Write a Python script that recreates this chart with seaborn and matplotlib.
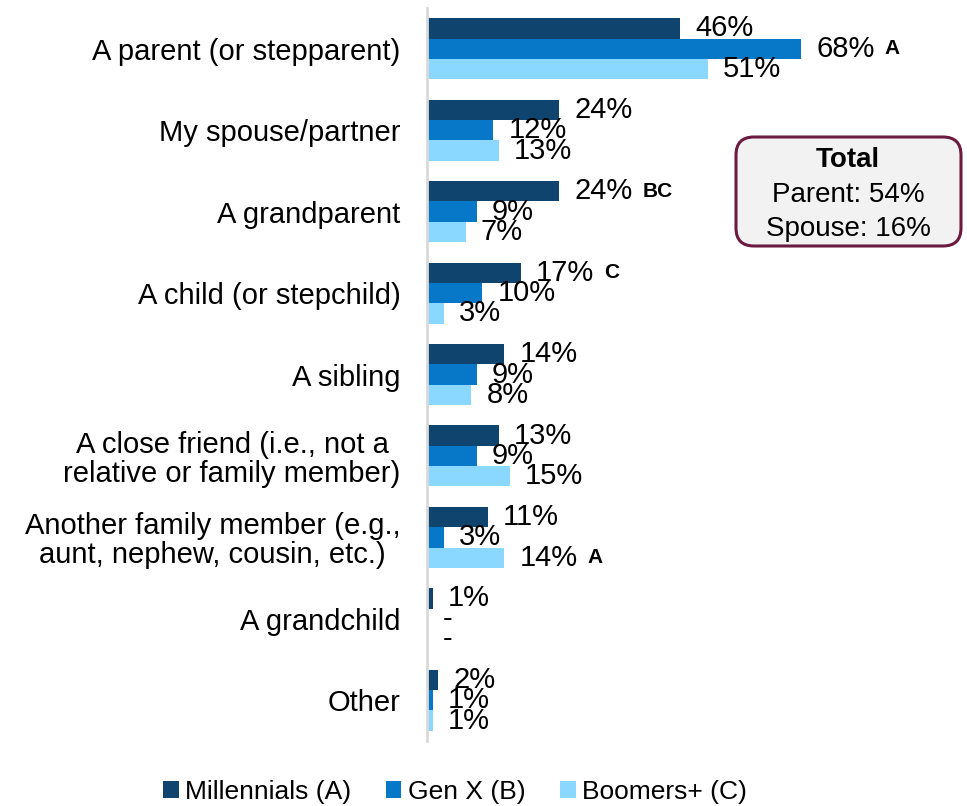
import matplotlib
matplotlib.use("Agg")
import matplotlib.pyplot as plt
import numpy as np
import pandas as pd
import seaborn as sns
from matplotlib.patches import FancyBboxPatch, Patch

categories = [
    "A parent (or stepparent)",
    "My spouse/partner",
    "A grandparent",
    "A child (or stepchild)",
    "A sibling",
    "A close friend (i.e., not a\nrelative or family member)",
    "Another family member (e.g.,\naunt, nephew, cousin, etc.)",
    "A grandchild",
    "Other",
]
series = ["Millennials (A)", "Gen X (B)", "Boomers+ (C)"]
millennials = [46, 24, 24, 17, 14, 13, 11, 1, 2]
gen_x = [68, 12, 9, 10, 9, 9, 3, 0, 1]
boomers = [51, 13, 7, 3, 8, 15, 14, 0, 1]
sig_millennials = ["", "", "BC", "C", "", "", "", "", ""]
sig_gen_x = ["A", "", "", "", "", "", "", "", ""]
sig_boomers = ["", "", "", "", "", "", "A", "", ""]
colors = ["#0F446E", "#0778C8", "#8AD8FF"]

df = pd.DataFrame({
    "category": categories * 3,
    "series": [s for s in series for _ in categories],
    "value": millennials + gen_x + boomers,
})

sns.set_style("white")
plt.rcParams["font.family"] = ["Liberation Sans", "DejaVu Sans"]
plt.rcParams["text.color"] = "black"
plt.rcParams["ytick.color"] = "black"
plt.rcParams["ytick.labelcolor"] = "black"

fig = plt.figure(figsize=(9.67, 8.06), dpi=100)
ax = fig.add_axes([427 / 967, 1 - 741 / 806, 523 / 967, 733 / 806])

sns.barplot(data=df, x="value", y="category", hue="series", orient="h",
            palette=colors, width=0.75, ax=ax, legend=False, saturation=1,
            edgecolor="none", linewidth=0)

ax.set_xlim(0, 95)
ax.set_ylim(8.5, -0.5)
ax.set_xlabel("")
ax.set_ylabel("")
ax.set_xticks([])
for s in ["top", "right", "bottom"]:
    ax.spines[s].set_visible(False)
ax.spines["left"].set_color("#D9D9D9")
ax.spines["left"].set_linewidth(2)
ax.tick_params(axis="y", length=0, pad=19, labelsize=21, labelcolor="black")
for lbl in ax.get_yticklabels():
    lbl.set_multialignment("center")
    lbl.set_linespacing(1.05)

all_vals = [millennials, gen_x, boomers]
all_sigs = [sig_millennials, sig_gen_x, sig_boomers]
for cont, vals, sigs in zip(ax.containers, all_vals, all_sigs):
    labels = ["-" if v == 0 else f"{v}%" for v in vals]
    ax.bar_label(cont, labels=labels, padding=11, fontsize=21, color="black")
    for bar, sig in zip(cont, sigs):
        if sig:
            ax.annotate(sig, xy=(bar.get_width(), bar.get_y() + bar.get_height() / 2),
                        xytext=(60, 0), textcoords="offset points", color="black",
                        ha="left", va="center", fontsize=15, fontweight="bold")

# total box
box = FancyBboxPatch((7.36, 5.60), 2.25, 1.09, boxstyle="round,pad=0,rounding_size=0.18",
                     transform=fig.dpi_scale_trans, facecolor="#F2F2F2",
                     edgecolor="#6B1A42", linewidth=2.2)
fig.patches.append(box)
fig.text(848 / 967, 1 - 160 / 806, "Total", ha="center", va="center",
         fontsize=20, fontweight="bold")
fig.text(848 / 967, 1 - 195 / 806, "Parent: 54%", ha="center", va="center", fontsize=20)
fig.text(848 / 967, 1 - 229 / 806, "Spouse: 16%", ha="center", va="center", fontsize=20)

handles = [Patch(facecolor=c, edgecolor="none") for c in colors]
fig.legend(handles, series, loc="center", bbox_to_anchor=(455 / 967, 1 - 792 / 806),
           ncol=3, frameon=False, fontsize=19, handlelength=0.6, handleheight=0.6,
           handletextpad=0.25, columnspacing=1.3, labelcolor="black")

fig.savefig("out.png", dpi=100)
